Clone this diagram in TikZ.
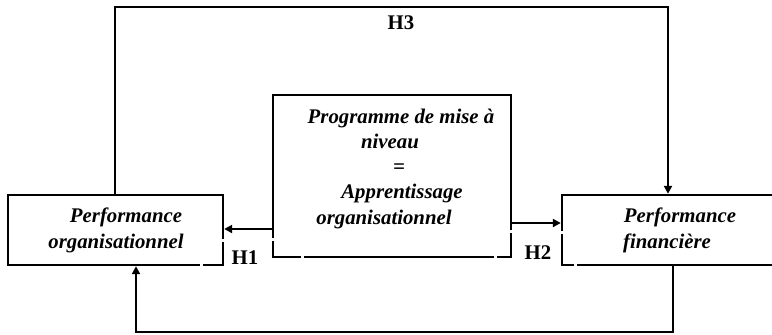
\documentclass[tikz,border=0pt]{standalone}
\usepackage{fontspec}
\setmainfont{Liberation Serif}
\usetikzlibrary{arrows.meta}

\begin{document}
\begin{tikzpicture}[x=0.5pt,y=-0.5pt,
  every node/.style={font=\fontsize{10.4}{13}\selectfont},
  box/.style={draw, line width=1.2pt, rectangle, inner sep=0pt},
  txt/.style={anchor=base, inner sep=0pt, font=\fontsize{10.4}{13}\selectfont\bfseries\itshape},
  hyp/.style={inner sep=0pt, font=\fontsize{10.4}{13}\selectfont\bfseries},
  link/.style={line width=1pt},
  arr/.style={link, -{Triangle[length=4pt,width=4pt]}},
  brk/.style={fill=white, draw=none}
]
\useasboundingbox (0,0) rectangle (772,334);

% boxes
\node[box, minimum width=107.5pt, minimum height=35pt] (org) at (115.5,230) {};
\node[box, minimum width=119pt, minimum height=81pt] (prog) at (392,176) {};
\node[box, minimum width=119pt, minimum height=35pt] (fin) at (681,230) {};

% box texts
\node[txt] (orgA) at (126,222) {Performance};
\node[txt] (orgB) at (116,248) {organisationnel};
\node[txt] (finA) at (680,222) {Performance};
\node[txt] (finB) at (667,248) {financière};
\node[txt] (progA) at (401,123) {Programme de mise à};
\node[txt] (progB) at (390,148) {niveau};
\node[txt] (progC) at (399,173) {=};
\node[txt] (progD) at (402,198) {Apprentissage};
\node[txt] (progE) at (384,224) {organisationnel};

% small breaks in the box borders
\fill[brk] (199.5,261) rectangle (202.5,269);
\fill[brk] (219,238.5) rectangle (227,241.5);
\fill[brk] (268,237.5) rectangle (276,240.5);
\fill[brk] (300.5,253) rectangle (303.5,261);
\fill[brk] (493.5,253) rectangle (496.5,261);
\fill[brk] (507,229.5) rectangle (515,232.5);
\fill[brk] (558,230.5) rectangle (566,233.5);
\fill[brk] (573.5,261) rectangle (576.5,269);

% connectors
\coordinate (h1y) at (0,229);
\coordinate (h2y) at (0,223);
\coordinate (topL) at (115,7);
\coordinate (topR) at (668,7);
\coordinate (botR) at (673,332);
\coordinate (botL) at (136,332);

\draw[arr] (prog.west |- h1y) -- (org.east |- h1y);
\draw[arr] (prog.east |- h2y) -- (fin.west |- h2y);
\draw[arr] (org.north -| topL) -- (topL) -- (topR) -- (fin.north -| topR);
\draw[arr] (fin.south -| botR) -- (botR) -- (botL) -- (org.south -| botL);

% hypothesis labels
\node[hyp] (H1) at (245,258) {H1};
\node[hyp] (H2) at (538,253) {H2};
\node[hyp] (H3) at (401,23) {H3};
\end{tikzpicture}
\end{document}
